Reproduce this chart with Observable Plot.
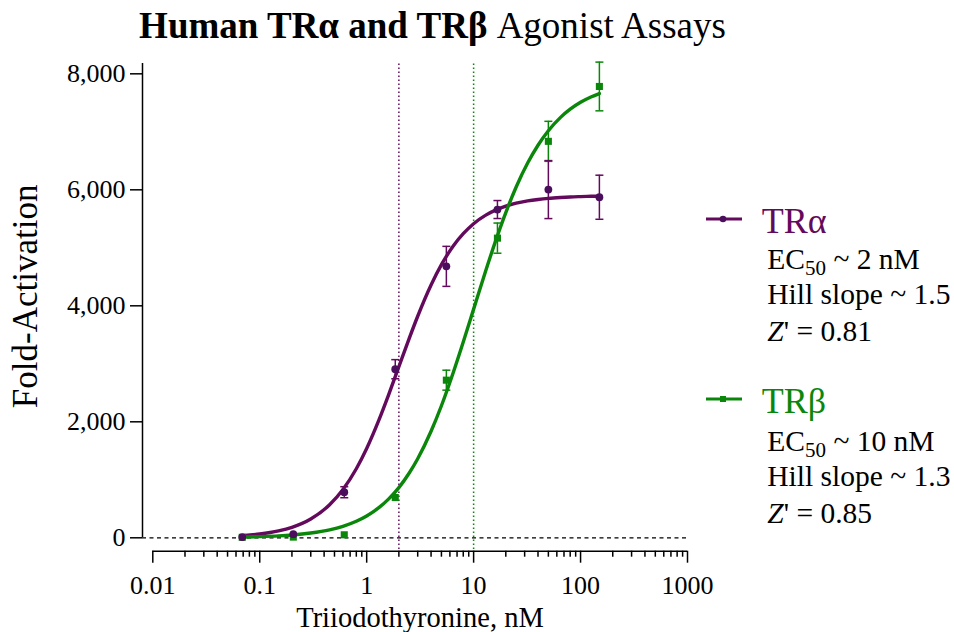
<!DOCTYPE html>
<html>
<head>
<meta charset="utf-8">
<script src="https://cdn.jsdelivr.net/npm/d3@7"></script>
<script src="https://cdn.jsdelivr.net/npm/@observablehq/plot@0.6"></script>
<style>
  body { margin: 0; background: white; }
  #wrap { position: relative; width: 954px; height: 632px; font-family: 'Liberation Serif', 'Times New Roman', serif; color: black; }
  #title { height: 52px; position: relative; }
  #title span.t { position: absolute; left: 0; width: 865px; top: 7px; text-align: center; font-size: 37px; line-height: 37px; white-space: nowrap; font-family: 'Liberation Serif', serif; }
  .lg { position: absolute; white-space: nowrap; font-family: 'Liberation Serif', serif; }
  .big { font-size: 36px; line-height: 36px; }
  .st { font-size: 29.5px; line-height: 29.5px; }
  .sub { font-size: 21px; position: relative; top: 6px; }
  .sw { position: absolute; }
</style>
</head>
<body>
<div id="wrap">
  <div id="title"><span class="t"><b>Human TRα and TRβ</b> Agonist Assays</span></div>
  <div id="chart"></div>
</div>
<script>
// ---- data ----
const conc = [0.0686, 0.206, 0.617, 1.85, 5.56, 16.7, 50, 150];
const alphaMean = [12, 63, 786, 2907, 4680, 5660, 6004, 5872];
const alphaErr = [0, 0, 95, 165, 345, 155, 500, 380];
const betaMean = [8, 12, 52, 694, 2718, 5167, 6836, 7782];
const betaErr = [0, 0, 0, 0, 172, 260, 345, 420];

const curveX = [0.0686, 0.1, 0.15, 0.2, 0.3, 0.45, 0.6, 0.8, 1, 1.3, 1.6, 2, 2.5, 3, 4, 5, 6.5, 8, 10, 13, 16, 20, 25, 32, 40, 50, 65, 80, 100, 125, 150];
const alphaFit = [37, 65, 119, 181, 324, 569, 833, 1191, 1541, 2029, 2461, 2950, 3439, 3820, 4359, 4709, 5040, 5244, 5416, 5564, 5650, 5719, 5770, 5809, 5834, 5853, 5868, 5877, 5883, 5888, 5891];
const betaFit = [12, 20, 33, 48, 82, 137, 198, 285, 376, 519, 667, 866, 1117, 1364, 1838, 2277, 2867, 3375, 3943, 4609, 5111, 5608, 6048, 6461, 6769, 7019, 7249, 7390, 7509, 7600, 7659];

const ec50Lines = [2, 10];
const yTicks = [0, 2000, 4000, 6000, 8000];
const xMajor = [0.01, 0.1, 1, 10, 100, 1000];
const xMinor = [0.02,0.03,0.04,0.05,0.06,0.07,0.08,0.09, 0.2,0.3,0.4,0.5,0.6,0.7,0.8,0.9, 2,3,4,5,6,7,8,9, 20,30,40,50,60,70,80,90, 200,300,400,500,600,700,800,900];

const legendItems = [
  {name: "TRα", ec50: "2", hill: "1.5", z: "0.81"},
  {name: "TRβ", ec50: "10", hill: "1.3", z: "0.85"}
];

// ---- build ----
const serif = "'Liberation Serif', 'Times New Roman', serif";
const purple = "#640a5c", purpleDot = "#4a0e5c", green = "#0a870a";
const xLeft = 0.008011, xRight = 1000;
const yBottom = -231, yTop = 8178;

const mk = (mean, err) => conc.map((c, i) => ({c, y: mean[i], e: err[i], lo: mean[i] - err[i], hi: mean[i] + err[i]}));
const alphaPts = mk(alphaMean, alphaErr);
const betaPts = mk(betaMean, betaErr);
const alphaCurve = curveX.map((x, i) => ({x, y: alphaFit[i]}));
const betaCurve = curveX.map((x, i) => ({x, y: betaFit[i]}));
const capSymbol = {draw(ctx) { ctx.moveTo(-4, 0); ctx.lineTo(4, 0); }};

function errMarks(pts, color) {
  const d = pts.filter(p => p.e > 0);
  return [
    Plot.ruleX(d, {x: "c", y1: "lo", y2: "hi", stroke: color, strokeWidth: 1.5}),
    Plot.dot(d, {x: "c", y: "hi", symbol: capSymbol, stroke: color, strokeWidth: 1.5, fill: "none", r: 4}),
    Plot.dot(d, {x: "c", y: "lo", symbol: capSymbol, stroke: color, strokeWidth: 1.5, fill: "none", r: 4})
  ];
}

const chart = Plot.plot({
  width: 954, height: 580,
  marginTop: 11, marginBottom: 81.3, marginLeft: 142, marginRight: 267,
  x: {type: "log", domain: [xLeft, xRight]},
  y: {domain: [yBottom, yTop]},
  style: {fontFamily: serif, color: "black", background: "white", overflow: "visible"},
  marks: [
    Plot.ruleY([0], {x1: xLeft, x2: 1000, stroke: "black", strokeWidth: 1.3, strokeDasharray: "4,3.5"}),
    Plot.ruleX([ec50Lines[0]], {y1: -200, y2: yTop, stroke: purple, strokeWidth: 1.5, strokeDasharray: "1.3,2.7"}),
    Plot.ruleX([ec50Lines[1]], {y1: -200, y2: yTop, stroke: green, strokeWidth: 1.5, strokeDasharray: "1.3,2.7"}),
    Plot.ruleX([xLeft], {y1: 0, y2: yTop, stroke: "black", strokeWidth: 1.5}),
    Plot.ruleY([yBottom], {x1: 0.01, x2: 1000, stroke: "black", strokeWidth: 1.5}),
    Plot.axisY({ticks: yTicks, tickSize: 12, tickPadding: 5, tickFormat: d3.format(","), fontSize: 26, fontFamily: serif, label: null, strokeWidth: 1.5}),
    Plot.axisX({ticks: xMajor, tickSize: 12, tickPadding: 12, tickFormat: d => String(d), fontSize: 26, fontFamily: serif, label: null, strokeWidth: 1.5}),
    Plot.axisX({ticks: xMinor, tickSize: 6, tickFormat: () => "", label: null, strokeWidth: 1.5}),
    Plot.text(["Fold-Activation"], {text: d => d, frameAnchor: "left", textAnchor: "middle", lineAnchor: "middle", dx: -117, dy: -11, rotate: -90, fontSize: 35, fontFamily: serif}),
    Plot.text(["Triiodothyronine, nM"], {text: d => d, frameAnchor: "bottom", textAnchor: "middle", lineAnchor: "middle", dx: 5, dy: 66.7, fontSize: 28.5, fontFamily: serif}),
    Plot.line(alphaCurve, {x: "x", y: "y", stroke: purple, strokeWidth: 3.4, curve: "monotone-x"}),
    Plot.line(betaCurve, {x: "x", y: "y", stroke: green, strokeWidth: 3.4, curve: "monotone-x"}),
    ...errMarks(betaPts, green),
    Plot.dot(betaPts, {x: "c", y: "y", symbol: "square", r: 4, fill: green}),
    ...errMarks(alphaPts, purple),
    Plot.dot(alphaPts, {x: "c", y: "y", symbol: "circle", r: 3.9, fill: purpleDot})
  ]
});
document.getElementById("chart").appendChild(chart);

// ---- legend ----
const wrap = document.getElementById("wrap");
const legendPos = [
  {sy: 219.3, color: purple, dot: purpleDot, sym: "circle", base: [233.3, 270, 305, 341.7]},
  {sy: 399.3, color: green, dot: green, sym: "square", base: [413.3, 451.7, 486.7, 523.3]}
];
legendItems.forEach((it, k) => {
  const p = legendPos[k];
  const sw = document.createElementNS("http://www.w3.org/2000/svg", "svg");
  sw.setAttribute("class", "sw");
  sw.setAttribute("width", 40); sw.setAttribute("height", 12);
  sw.style.left = "704px"; sw.style.top = (p.sy - 6) + "px";
  let m = p.sym === "circle"
    ? `<circle cx="19" cy="6" r="3.3" fill="${p.dot}"/>`
    : `<rect x="16" y="3" width="6" height="6" fill="${p.dot}"/>`;
  sw.innerHTML = `<line x1="2" y1="6" x2="38" y2="6" stroke="${p.color}" stroke-width="3"/>` + m;
  wrap.appendChild(sw);
  const add = (cls, html, left, base, fs, color) => {
    const d = document.createElement("div");
    d.className = "lg " + cls;
    d.innerHTML = html;
    d.style.left = left + "px";
    d.style.top = (base - 0.8375 * fs) + "px";
    if (color) d.style.color = color;
    wrap.appendChild(d);
  };
  add("big", it.name, 761.7, p.base[0], 36, p.color);
  add("st", `EC<span class="sub">50</span> ~ ${it.ec50} nM`, 767.3, p.base[1], 29.5);
  add("st", `Hill slope ~ ${it.hill}`, 767.3, p.base[2], 29.5);
  add("st", `<i>Z</i>' = ${it.z}`, 767.3, p.base[3], 29.5);
});
</script>
</body>
</html>
